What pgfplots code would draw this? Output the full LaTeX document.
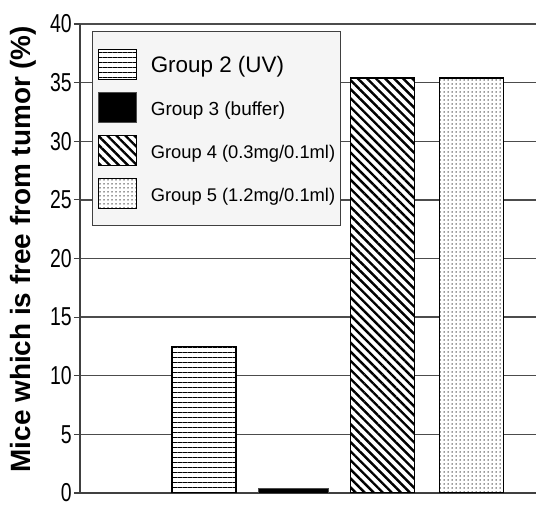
\documentclass[border=0pt]{standalone}
\usepackage{fontspec}
\setmainfont{Liberation Sans}
\usepackage{graphicx}
\usepackage{pgfplots}
\pgfplotsset{compat=1.18}
\usetikzlibrary{patterns.meta}

\begin{document}
\begin{tikzpicture}
  \begin{axis}[
    at={(0,0)}, anchor=south west,
    scale only axis,
    width=456bp, height=469bp,
    xmin=0.608, xmax=5.726,
    ymin=0, ymax=40,
    ytick={0,5,...,40},
    xtick=\empty,
    axis x line*=bottom,
    axis y line*=left,
    axis line style={draw=black!75, line width=1.3bp},
    ymajorgrids,
    major grid style={draw=black!70, line width=1.3bp},
    tick align=outside,
    major tick length=6bp,
    tick style={draw=black!75, line width=1.2bp},
    /pgf/number format/assume math mode=true,
    yticklabel={\scalebox{0.75}[1]{\pgfmathprintnumber{\tick}}},
    yticklabel style={font=\fontsize{26}{26}\selectfont, inner sep=2bp},
    ylabel={\textbf{Mice which is free from tumor (\%)}},
    ylabel style={at={(axis description cs:-0.125,0.52)}, anchor=center,
      font=\fontsize{28}{28}\selectfont},
    ybar, bar width=64bp,
    legend cell align=left,
    legend image code/.code={
      \draw[#1, line width=1.2bp] (0bp,-15bp) rectangle (38bp,15bp);},
    legend style={
      at={(axis description cs:0.0263,0.985)},
      anchor=north west,
      fill=black!4, draw=black!75, line width=1.2bp,
      inner xsep=5bp, inner ysep=14bp,
      row sep=6bp,
      nodes={inner sep=0bp, text height=27bp, text depth=10bp},
      /tikz/every odd column/.append style={column sep=14bp},
      font=\fontsize{19}{22}\selectfont}]

    % Group 2 (UV)
    \addplot[bar shift=0pt, draw=black, line width=1.2bp, fill=white,
      postaction={pattern={Lines[angle=0, distance=5bp, line width=1bp]}}]
      coordinates {(2,12.5)};
    % Group 3 (buffer)
    \addplot[bar shift=0pt, bar width=70bp, draw=black!70, fill=black, line width=1bp]
      coordinates {(3,0.35)};
    % Group 4 (0.3mg/0.1ml)
    \addplot[bar shift=0pt, draw=black, line width=1.2bp, fill=white,
      postaction={pattern={Lines[angle=-45, distance=6.4bp, line width=2.4bp]}}]
      coordinates {(4,35.4)};
    % Group 5 (1.2mg/0.1ml)
    \addplot[bar shift=0pt, draw=black, line width=1.2bp, fill=white,
      postaction={pattern={Dots[distance=4bp, radius=0.75bp]}, pattern color=black!80}]
      coordinates {(5,35.4)};

    \legend{{\fontsize{22.5}{22}\selectfont Group 2 (UV)},
      Group 3 (buffer),
      {\fontsize{18.4}{22}\selectfont Group 4 (0.3mg/0.1ml)},
      {\fontsize{18.4}{22}\selectfont Group 5 (1.2mg/0.1ml)}}
  \end{axis}
  \pgfresetboundingbox
  \path (-80bp,-15bp) rectangle (456bp,493bp);
\end{tikzpicture}
\end{document}
